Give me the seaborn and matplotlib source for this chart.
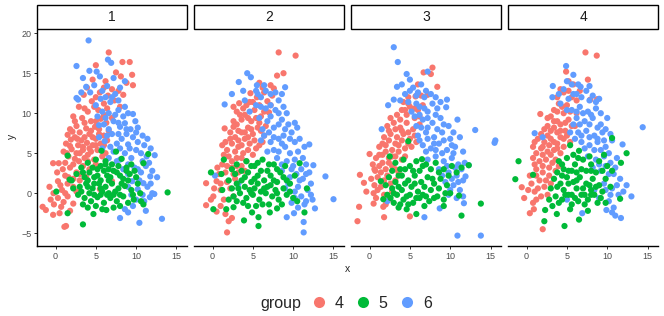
import matplotlib
matplotlib.use("Agg")
import pandas as pd
import matplotlib.pyplot as plt
import matplotlib.patches as mpatches
from matplotlib.lines import Line2D
import seaborn as sns

# ─── DATA ─────────────────────────────────────────────────────────────────────

FACETS = ["1", "2", "3", "4"]
GROUPS = ["4", "5", "6"]
GROUP_COLORS = {"4": "#F8766D", "5": "#00BA38", "6": "#619CFF"}
X_TICKS = [0, 5, 10, 15]
Y_TICKS = [-5, 0, 5, 10, 15, 20]

# panel 1 (*_CORE = extra points inside the dense blobs)
P1_G4 = [(6.6, 17.6), (8.3, 16.4), (9.2, 16.4), (5.0, 16.0), (7.5, 15.1), (9.5, 14.8), (8.1, 14.6),
         (4.6, 14.2), (6.2, 14.0), (9.6, 13.5), (3.9, 13.2), (7.0, 13.0), (8.4, 12.3), (5.5, 12.6),
         (6.5, 12.2), (3.5, 12.3), (4.5, 11.5), (6.0, 11.2), (7.3, 11.6), (2.9, 10.8), (5.3, 10.4),
         (4.0, 10.2), (8.0, 10.8), (2.2, 9.6), (3.3, 9.4), (4.4, 9.0), (5.6, 9.3), (2.6, 8.4), (3.8, 8.1),
         (4.9, 8.3), (6.3, 8.8), (1.8, 8.0), (1.5, 7.3), (2.4, 7.0), (3.2, 6.6), (4.2, 7.4), (5.0, 6.8),
         (6.0, 7.2), (1.3, 6.2), (2.8, 6.0), (3.9, 6.3), (4.6, 6.0), (5.6, 6.2), (1.0, 5.2), (2.0, 5.5),
         (3.0, 5.0), (3.6, 4.4), (4.4, 5.2), (5.2, 5.4), (2.4, 4.3), (1.6, 4.6), (4.8, 4.2), (6.2, 5.0),
         (0.4, 3.75), (-0.3, 3.75), (0.9, 3.0), (1.8, 3.2), (2.6, 2.6), (3.4, 3.4), (1.2, 2.2), (0.2, 2.6),
         (4.2, 3.0), (-0.75, 0.8), (0.3, 1.5), (1.5, 1.2), (2.2, 0.8), (-0.25, 0.0), (0.8, 0.4), (3.0, 1.6),
         (5.5, 0.5), (7.0, 1.5), (-1.6, -1.7), (-1.2, -2.1), (-0.3, -2.7), (1.3, -4.1), (1.1, -4.2),
         (0.5, -2.5), (0.7, -1.7), (1.5, -0.4), (-0.6, -0.8), (0.3, -0.6), (2.2, -1.3), (1.0, -1.1)]
P1_G4_CORE = [(1.6, 2.0), (2.2, 1.8), (3.0, 2.4), (3.8, 2.0), (1.2, 3.8), (2.2, 3.6), (2.9, 4.0),
              (4.0, 4.0), (5.0, 3.6), (1.4, 5.0), (2.6, 5.0), (3.4, 5.4), (4.0, 4.8), (5.8, 4.6),
              (1.8, 5.9), (3.4, 5.8), (4.2, 5.6), (5.0, 6.0), (6.0, 6.0), (1.9, 6.7), (2.7, 6.8),
              (3.6, 7.0), (4.6, 7.0), (5.4, 7.4), (6.4, 6.6), (2.1, 7.7), (3.0, 7.6), (4.4, 7.8),
              (5.4, 8.0), (6.6, 7.8), (2.4, 9.0), (3.6, 8.8), (5.0, 9.0), (6.0, 9.8), (7.0, 9.4),
              (3.6, 10.6), (4.8, 10.8), (6.4, 10.6), (5.0, 12.0), (7.8, 12.8), (6.0, 13.2), (8.8, 13.8),
              (0.6, 1.0), (1.2, 0.0), (2.6, 0.2), (-0.2, -1.4), (1.8, -2.2)]
P1_G6 = [(4.1, 19.1), (6.5, 16.7), (6.9, 16.3), (2.6, 15.9), (4.2, 15.3), (5.1, 15.2), (5.5, 14.6),
         (8.6, 14.0), (3.8, 13.3), (4.8, 13.5), (5.8, 12.8), (7.4, 12.4), (6.4, 13.4), (4.3, 12.6),
         (2.8, 11.7), (2.6, 11.9), (5.0, 11.0), (6.8, 11.4), (7.8, 10.4), (8.6, 10.8), (5.8, 10.2),
         (9.6, 9.9), (8.6, 8.75), (9.9, 9.0), (6.2, 9.4), (7.2, 9.0), (5.4, 8.5), (8.0, 8.3), (9.3, 8.0),
         (6.6, 8.0), (10.8, 7.2), (7.0, 7.4), (8.2, 6.8), (9.6, 7.0), (6.1, 6.5), (7.6, 6.2), (9.0, 6.1),
         (10.2, 6.4), (5.4, 7.0), (12.3, 4.75), (11.3, 4.6), (8.6, 5.0), (10.0, 5.4), (7.2, 5.2), (9.4, 4.4),
         (10.8, 4.0), (6.6, 4.4), (8.0, 4.2), (11.8, 5.6), (9.8, 3.2), (10.6, 2.6), (11.75, 2.1), (9.0, 2.4),
         (11.2, 3.4), (8.4, 3.0), (10.9, 1.25), (12.0, 0.0), (12.25, -0.1), (10.2, 0.5), (11.4, 0.8),
         (9.5, 1.5), (11.7, -0.5), (13.2, -3.2), (10.4, -3.7), (8.0, -3.1), (9.0, -2.4), (9.6, -1.6),
         (10.0, -0.8), (11.0, -1.0), (8.6, -2.0)]
P1_G6_CORE = [(5.6, 11.8), (6.2, 12.0), (7.0, 12.0), (7.8, 11.6), (8.0, 13.2), (5.2, 9.6), (6.6, 10.0),
              (7.4, 9.8), (8.4, 9.6), (9.0, 10.0), (6.0, 8.6), (7.8, 8.8), (8.8, 8.0), (10.2, 8.2),
              (6.4, 7.2), (7.8, 7.4), (8.8, 7.4), (10.0, 7.6), (11.4, 6.8), (5.8, 5.6), (6.8, 5.8),
              (8.0, 5.6), (9.2, 5.6), (10.6, 5.0), (11.0, 6.0), (7.6, 4.0), (9.0, 3.6), (10.2, 3.0),
              (11.6, 3.8), (12.0, 2.8), (10.4, 1.6), (11.8, 1.2), (9.0, 0.8), (10.8, -0.2), (11.2, -2.2),
              (9.4, -0.2), (12.6, 2.0), (3.4, 14.4), (3.2, 12.6), (7.2, 14.4)]
P1_G5 = [(1.5, 4.7), (13.9, 0.1), (11.5, 4.9), (10.9, 3.75), (3.4, -3.9), (4.7, -2.6), (1.5, -2.5),
         (10.9, -1.4), (7.5, 5.2), (5.7, 5.3), (6.3, -2.1), (0.1, 0.2), (1.75, 1.7), (9.7, -0.8), (10.5, 0.0),
         (4.0, 3.8), (5.0, 4.2), (6.2, 4.0), (7.0, 3.6), (8.2, 4.3), (9.4, 3.6), (3.2, 3.2), (4.6, 3.2),
         (5.6, 3.4), (6.6, 3.0), (2.6, 2.4), (3.6, 2.0), (4.2, 2.6), (5.2, 2.2), (6.0, 2.8), (6.8, 2.0),
         (7.6, 2.6), (8.4, 1.8), (9.2, 2.4), (10.0, 2.0), (2.0, 1.6), (3.0, 0.8), (3.8, 1.2), (4.6, 0.6),
         (5.4, 1.2), (6.2, 0.8), (7.0, 1.2), (7.8, 0.6), (8.6, 0.9), (9.4, 0.4), (4.2, 0.0), (5.8, 0.2),
         (6.6, 0.0), (3.6, -0.6), (4.4, -1.0), (5.2, -0.5), (6.0, -1.2), (6.8, -0.6), (7.6, -1.0),
         (8.4, -0.4), (5.0, -1.6), (7.2, -1.8), (9.0, -1.2), (2.8, -0.2)]
P1_G5_CORE = [(3.4, 2.6), (4.0, 1.6), (4.8, 2.0), (5.6, 1.6), (6.4, 2.2), (7.2, 2.8), (8.0, 2.2),
              (8.8, 2.8), (9.8, 2.8), (3.2, 0.2), (4.0, 0.8), (4.8, 1.2), (5.6, 0.6), (6.6, 1.6),
              (7.4, 0.2), (8.2, 1.2), (9.0, 1.6), (10.2, 1.2), (4.8, -0.2), (5.6, -0.2), (6.4, -0.2),
              (7.2, -0.2), (8.0, -0.2), (3.4, -1.4), (4.0, -1.8), (5.8, -2.0), (8.0, -1.6), (9.6, -0.2),
              (5.2, 3.0), (6.2, 3.6), (7.8, 3.4), (8.8, 3.2), (2.2, 0.6), (10.6, -1.0)]

# panel 2
P2_G4 = [(8.2, 17.6), (10.3, 17.2), (8.8, 15.0), (8.0, 14.7), (7.2, 13.5), (7.6, 13.1), (4.7, 12.5),
         (3.3, 11.25), (2.6, 8.3), (1.5, 8.1), (1.2, 6.0), (-0.8, 1.25), (0.1, -0.4), (-0.8, -1.5),
         (0.5, -2.3), (1.8, -4.9), (2.0, -3.5), (2.4, -3.1), (1.0, 0.4), (0.5, 1.5), (5.5, 12.0), (6.4, 12.6),
         (5.0, 11.4), (6.8, 11.5), (4.2, 11.0), (7.4, 12.2), (3.0, 10.2), (4.0, 9.8), (5.2, 10.4), (6.0, 9.6),
         (7.0, 10.1), (3.6, 9.2), (4.8, 9.0), (5.8, 8.8), (2.2, 7.6), (3.0, 8.6), (3.6, 7.6), (4.4, 8.2),
         (5.0, 7.4), (6.0, 7.8), (2.8, 7.0), (4.0, 6.8), (6.6, 8.4), (1.8, 5.4), (2.4, 6.2), (3.2, 5.8),
         (3.8, 5.0), (4.6, 6.2), (5.4, 5.6), (6.2, 6.4), (2.0, 4.6), (3.0, 4.4), (4.2, 4.0), (5.0, 4.8),
         (1.2, 3.6), (1.6, 2.6), (2.4, 3.2), (3.2, 2.6), (0.8, 2.4), (2.8, 1.8), (1.8, 1.4), (3.6, 3.4),
         (2.2, 0.6), (1.4, -0.8), (1.0, -1.6)]
P2_G4_CORE = [(2.6, 10.8), (3.8, 10.6), (4.6, 11.4), (5.8, 11.0), (7.2, 11.0), (6.2, 13.2), (5.8, 13.8),
              (3.4, 9.8), (4.4, 9.4), (5.4, 9.4), (6.4, 10.2), (2.6, 9.0), (3.2, 7.8), (4.0, 7.6),
              (4.8, 8.0), (5.6, 8.2), (6.4, 7.2), (2.2, 6.8), (3.2, 6.6), (3.6, 6.0), (4.4, 7.0),
              (5.2, 6.6), (5.8, 6.0), (1.6, 6.4), (2.8, 5.2), (3.6, 4.4), (4.4, 5.4), (1.4, 4.8),
              (2.4, 4.0), (1.8, 3.4), (3.0, 3.4), (4.0, 2.8), (0.6, 3.2), (1.0, 1.2), (2.6, 2.4),
              (0.2, 0.6), (2.6, -0.4), (1.6, -2.6), (-0.2, -0.8)]
P2_G6 = [(4.3, 15.0), (4.75, 14.5), (3.25, 13.9), (2.4, 12.4), (1.5, 11.1), (5.5, 13.5), (6.4, 13.5),
         (9.0, 13.25), (10.5, 8.2), (12.0, 6.1), (12.5, 3.5), (14.0, 2.1), (15.0, -0.75), (12.7, -1.9),
         (11.3, -3.6), (11.3, -4.9), (9.2, -3.0), (10.1, -2.5), (11.6, -1.0), (0.3, 2.2), (6.0, 12.0),
         (7.2, 12.4), (8.2, 11.6), (5.4, 11.0), (6.6, 10.6), (7.8, 10.4), (8.8, 10.8), (4.6, 10.2), (5.8, 9.4),
         (6.8, 9.0), (7.6, 8.2), (8.6, 9.2), (9.4, 8.6), (6.2, 8.0), (9.8, 7.6), (7.0, 7.6), (6.0, 6.6),
         (7.2, 6.4), (8.2, 6.8), (9.0, 5.8), (10.2, 6.4), (7.6, 5.4), (8.8, 7.2), (10.6, 5.2), (6.8, 5.2),
         (11.2, 4.4), (8.0, 4.4), (9.2, 4.0), (10.0, 3.4), (11.0, 3.0), (8.6, 2.8), (9.6, 2.0), (10.8, 1.6),
         (11.6, 2.4), (12.2, 1.2), (9.0, 0.6), (10.2, 0.2), (11.0, -0.4), (9.8, -1.2), (10.6, -1.8),
         (11.8, 0.4), (12.4, -0.8), (3.2, 1.2)]
P2_G6_CORE = [(6.6, 12.8), (7.8, 12.6), (5.6, 12.4), (8.6, 12.4), (6.0, 10.8), (7.2, 11.0), (8.2, 10.0),
              (9.2, 10.0), (7.2, 9.6), (8.2, 8.6), (9.0, 8.0), (10.2, 8.8), (6.4, 7.2), (7.6, 7.0),
              (8.6, 6.2), (9.6, 6.8), (10.8, 6.8), (11.4, 5.8), (8.2, 5.2), (9.6, 5.0), (10.2, 4.2),
              (11.6, 3.6), (8.6, 3.6), (9.8, 3.0), (10.4, 2.4), (11.2, 1.8), (12.0, 2.6), (9.4, 1.2),
              (10.6, 0.8), (11.4, -1.4), (10.2, -0.6), (12.2, -0.2), (5.4, 12.8), (3.8, 12.8), (4.0, 11.6)]
P2_G5 = [(-0.2, 2.6), (0.1, -2.0), (1.7, -2.0), (2.6, -1.75), (3.9, -3.4), (5.7, -4.1), (5.7, -3.0),
         (4.9, -2.4), (7.1, -2.4), (8.0, -1.9), (10.5, -1.0), (11.4, -2.4), (11.7, 0.6), (10.8, 3.75),
         (1.1, 2.4), (1.4, 4.2), (3.0, 3.6), (4.2, 4.0), (5.2, 3.4), (6.2, 4.2), (7.0, 3.6), (8.0, 3.0),
         (2.4, 3.0), (9.0, 3.4), (3.6, 2.8), (2.0, 1.6), (3.0, 1.2), (4.0, 2.0), (4.8, 1.4), (5.6, 2.2),
         (6.4, 1.6), (7.2, 2.2), (8.0, 1.4), (8.8, 2.0), (9.6, 1.2), (5.2, 0.6), (6.8, 0.8), (2.6, -0.4),
         (3.4, 0.0), (4.2, -0.6), (5.0, -0.2), (5.8, -0.8), (6.6, 0.0), (7.4, -0.4), (8.2, -0.8), (9.2, -0.2),
         (3.8, -1.2), (6.2, -1.4), (7.8, 0.4), (4.6, 0.4), (6.0, 0.2), (10.0, -0.6)]
P2_G5_CORE = [(2.8, 2.4), (3.6, 1.6), (4.4, 2.6), (5.2, 1.8), (6.0, 2.8), (6.8, 2.8), (7.6, 1.6),
              (8.4, 2.6), (9.2, 1.6), (10.2, 2.2), (2.4, 0.6), (3.2, 0.6), (4.0, 0.8), (4.8, 0.0),
              (5.6, 1.2), (6.4, 0.6), (7.2, 1.0), (8.0, 0.0), (8.8, 0.6), (9.6, 0.2), (3.0, -1.0),
              (4.4, -1.6), (5.4, -1.6), (7.0, -1.4), (8.6, -1.4), (5.6, 3.8), (7.6, 3.6), (4.8, 3.4),
              (2.0, -0.8), (1.2, 0.4)]

# panel 3
P3_G4 = [(7.8, 15.7), (6.7, 15.1), (7.6, 14.9), (8.4, 13.3), (7.2, 12.3), (5.7, 12.1), (4.4, 10.4),
         (0.0, 4.9), (-1.2, 2.3), (-0.7, 1.3), (0.5, 0.0), (-1.3, -1.7), (-1.5, -3.5), (0.5, -1.3),
         (1.8, -3.0), (1.7, -1.7), (5.0, -2.9), (0.7, 2.8), (4.2, 11.4), (5.0, 10.8), (6.0, 10.4), (3.4, 9.8),
         (5.6, 9.4), (6.6, 11.0), (4.8, 12.0), (2.2, 8.4), (3.0, 8.8), (3.8, 8.2), (4.6, 8.8), (5.4, 8.0),
         (2.6, 7.4), (3.4, 7.0), (4.2, 7.4), (5.0, 6.8), (6.2, 8.6), (1.8, 7.0), (1.2, 5.8), (2.0, 6.0),
         (2.8, 5.4), (3.6, 6.0), (4.4, 5.6), (1.6, 4.8), (2.4, 4.4), (3.2, 4.6), (4.0, 4.2), (5.2, 5.8),
         (0.8, 4.4), (0.4, 3.6), (1.2, 3.4), (2.0, 3.0), (2.8, 3.4), (3.6, 2.6), (1.0, 2.0), (1.8, 1.6),
         (2.6, 1.2), (0.2, 1.8), (3.2, 1.6), (1.0, 0.4), (1.8, -0.2), (2.4, -0.8), (0.8, -0.6), (2.0, -1.4)]
P3_G4_CORE = [(2.6, 9.4), (3.8, 9.2), (4.6, 9.8), (5.6, 10.6), (4.0, 10.4), (2.4, 7.8), (3.2, 8.0),
              (4.0, 7.8), (4.8, 7.6), (5.6, 7.2), (6.2, 9.6), (1.6, 6.2), (2.4, 6.6), (3.2, 6.2),
              (4.0, 6.6), (4.8, 6.2), (5.8, 6.4), (1.2, 4.8), (2.0, 5.2), (2.8, 4.6), (3.6, 5.2),
              (4.4, 4.6), (0.6, 3.0), (1.6, 3.8), (2.4, 3.8), (3.2, 3.0), (1.4, 2.6), (2.2, 2.2),
              (0.6, 1.0), (1.4, 0.8), (2.8, 0.2), (-0.4, 0.2), (4.8, 11.2), (6.4, 12.2), (6.0, 13.6)]
P3_G6 = [(3.0, 18.25), (3.5, 16.4), (4.6, 14.9), (5.0, 14.2), (3.4, 13.3), (3.0, 11.7), (2.3, 11.0),
         (1.5, 8.0), (9.6, 11.7), (9.5, 10.75), (10.9, 9.2), (13.1, 7.9), (15.5, 6.3), (15.6, 6.6), (12.3, 3.5),
         (11.9, 2.1), (11.7, -1.25), (10.9, -5.3), (13.8, -5.3), (8.7, -1.9), (6.8, -3.0), (2.2, -1.0),
         (7.2, 15.2), (5.4, 13.2), (6.4, 13.6), (4.4, 12.4), (5.8, 12.2), (7.0, 12.8), (8.2, 12.0), (3.8, 11.6),
         (5.2, 10.2), (6.2, 10.8), (7.2, 10.2), (8.4, 10.6), (6.6, 9.2), (7.8, 8.8), (8.8, 9.4), (9.8, 8.4),
         (5.8, 8.4), (6.0, 7.2), (7.0, 7.6), (8.0, 7.0), (9.0, 7.6), (10.0, 6.8), (6.6, 6.0), (7.6, 5.6),
         (8.6, 6.2), (9.6, 5.4), (10.6, 5.8), (11.2, 7.0), (7.2, 4.2), (8.2, 4.6), (9.2, 4.0), (10.2, 4.4),
         (11.0, 3.6), (8.6, 3.0), (9.8, 2.6), (10.8, 2.2), (11.4, 3.0), (9.4, 1.4), (10.4, 1.0), (11.2, 0.4),
         (10.8, -0.6), (9.8, -0.2), (11.6, 1.6)]
P3_G6_CORE = [(5.0, 12.8), (6.0, 12.6), (6.8, 12.0), (7.6, 12.4), (4.0, 13.6), (4.8, 11.4), (5.8, 11.2),
              (6.8, 10.6), (7.8, 11.2), (8.8, 11.4), (5.6, 9.6), (6.2, 9.8), (7.2, 9.4), (8.2, 9.8),
              (9.2, 8.6), (6.4, 8.2), (7.2, 8.2), (8.4, 8.0), (10.4, 7.6), (6.2, 6.6), (7.2, 6.8),
              (8.0, 6.2), (9.2, 6.6), (10.2, 6.0), (7.0, 5.2), (8.2, 5.4), (9.0, 5.0), (10.4, 5.0),
              (11.6, 5.2), (9.6, 3.4), (10.6, 3.2), (11.8, 3.8), (9.0, 2.2), (10.2, 1.8), (11.0, 1.4),
              (10.0, 0.4), (11.6, -0.4)]
P3_G5 = [(13.8, -1.3), (12.3, 3.5), (11.4, -2.8), (5.8, -2.6), (4.6, -2.0), (3.6, -1.8), (1.7, -0.75),
         (1.4, 1.5), (2.5, 4.6), (6.5, 4.25), (4.8, 6.5), (11.1, -0.3), (10.0, 0.0), (3.2, 3.8), (4.2, 4.2),
         (5.0, 3.4), (5.8, 4.0), (7.0, 3.6), (8.2, 3.8), (9.2, 3.0), (3.8, 3.0), (6.2, 2.8), (10.2, 3.4),
         (2.4, 2.0), (3.2, 1.4), (4.0, 2.2), (4.8, 1.6), (5.6, 2.2), (6.4, 1.4), (7.2, 2.0), (8.0, 1.2),
         (8.8, 1.8), (9.6, 1.0), (2.8, 0.6), (5.2, 0.8), (7.6, 0.4), (2.6, -0.6), (3.4, -0.2), (4.2, -0.8),
         (5.0, -0.2), (5.8, -0.6), (6.6, -0.2), (7.4, -1.0), (8.4, -0.4), (9.2, -0.8), (4.0, 0.4), (6.0, 0.2),
         (3.0, -1.2), (6.8, -1.6)]
P3_G5_CORE = [(2.8, 2.8), (3.6, 2.2), (4.4, 3.0), (5.4, 2.8), (6.6, 3.4), (7.6, 3.0), (8.6, 2.6),
              (9.8, 2.2), (2.0, 1.0), (3.6, 0.8), (4.4, 1.2), (5.6, 1.2), (6.8, 0.8), (7.8, 1.8),
              (8.6, 0.6), (9.4, 0.0), (3.0, 0.0), (4.6, -0.4), (5.4, -1.2), (6.2, -0.6), (7.0, -0.4),
              (8.0, -0.6), (4.8, -1.4), (3.8, -1.4), (2.2, -0.2), (10.8, 2.6), (11.4, 3.2), (9.2, -1.6)]

# panel 4
P4_G4 = [(7.3, 17.6), (8.7, 17.2), (7.6, 14.2), (4.9, 15.2), (5.2, 14.0), (7.9, 11.7), (1.7, 9.9),
         (0.8, 5.8), (-0.6, 0.75), (-0.3, -0.6), (0.4, -2.5), (0.9, -2.0), (2.0, -4.5), (1.2, -0.8),
         (8.75, 11.75), (4.6, 12.6), (5.6, 12.0), (4.0, 11.2), (5.0, 11.0), (6.2, 11.6), (3.4, 10.4),
         (4.6, 10.0), (6.6, 12.8), (2.6, 9.4), (3.4, 9.0), (4.2, 8.6), (5.2, 9.2), (6.0, 8.4), (2.2, 8.0),
         (3.0, 7.8), (3.8, 7.6), (4.8, 7.8), (1.4, 6.8), (2.2, 6.4), (3.0, 6.8), (3.8, 6.2), (4.6, 6.8),
         (5.4, 6.4), (1.8, 5.6), (2.6, 5.2), (3.4, 5.4), (4.2, 5.0), (0.8, 4.4), (1.6, 4.0), (2.4, 4.2),
         (3.2, 3.8), (4.0, 3.4), (1.2, 3.0), (2.0, 2.6), (2.8, 2.2), (3.6, 2.8), (1.6, 1.6), (0.6, 1.2),
         (1.4, 0.6), (2.2, 0.8), (1.8, -0.4), (2.6, -0.2), (3.0, 1.2)]
P4_G4_CORE = [(3.8, 12.0), (4.2, 13.0), (5.2, 12.8), (5.8, 13.6), (3.8, 10.2), (4.4, 10.8), (5.4, 10.2),
              (6.2, 10.0), (3.0, 9.6), (3.8, 9.0), (4.8, 8.8), (5.6, 8.4), (2.6, 8.4), (3.4, 8.2),
              (4.2, 7.8), (1.8, 7.4), (2.6, 7.2), (3.4, 6.4), (4.2, 7.0), (5.0, 7.2), (1.0, 6.4),
              (2.0, 5.8), (2.8, 6.0), (3.8, 5.6), (4.6, 5.8), (1.2, 5.0), (2.0, 4.8), (3.0, 4.8),
              (3.6, 4.2), (1.0, 3.6), (2.0, 3.4), (2.8, 3.2), (0.4, 2.2), (1.2, 2.2), (2.4, 1.6),
              (0.2, 0.4), (1.0, 0.2), (0.8, -1.2)]
P4_G6 = [(4.9, 15.9), (3.25, 13.4), (3.2, 12.0), (6.7, 13.3), (9.0, 11.8), (10.0, 9.4), (14.4, 8.25),
         (11.9, 6.1), (1.0, 7.5), (2.0, 7.0), (12.4, 1.0), (13.0, -0.4), (11.7, -3.1), (11.0, -2.8),
         (9.9, -2.1), (6.9, -2.5), (5.0, -0.8), (4.6, 13.0), (5.6, 13.6), (6.2, 12.4), (7.4, 12.8), (5.2, 11.8),
         (8.2, 12.2), (4.2, 11.2), (5.6, 10.4), (6.6, 10.8), (7.6, 10.2), (8.6, 10.6), (6.2, 9.4), (7.2, 9.0),
         (8.2, 9.4), (9.2, 8.6), (5.8, 8.6), (6.4, 7.6), (7.4, 7.8), (8.4, 7.2), (9.4, 7.6), (6.8, 6.4),
         (7.8, 6.0), (8.8, 6.4), (9.8, 5.8), (10.6, 6.6), (6.0, 6.8), (7.6, 4.6), (8.6, 4.2), (9.6, 4.6),
         (10.4, 3.8), (8.2, 3.2), (9.2, 2.8), (10.2, 2.4), (11.0, 3.2), (11.6, 1.8), (9.6, 1.2), (10.6, 0.6),
         (11.4, -0.2), (10.2, -1.0), (9.0, -0.6), (8.4, 0.4), (10.8, -1.8)]
P4_G6_CORE = [(5.0, 14.0), (5.8, 14.8), (6.4, 13.6), (7.8, 13.4), (4.0, 12.4), (5.8, 12.4), (6.8, 12.0),
              (7.8, 11.6), (8.6, 11.4), (5.0, 10.4), (6.2, 10.2), (7.0, 10.0), (8.0, 9.8), (9.2, 10.0),
              (6.6, 8.6), (7.8, 8.6), (8.8, 8.2), (9.8, 8.0), (5.4, 7.6), (6.8, 7.2), (7.8, 7.0),
              (8.8, 6.8), (9.6, 6.6), (10.4, 7.4), (7.2, 5.6), (8.4, 5.4), (9.2, 5.4), (10.2, 5.0),
              (11.2, 4.4), (9.0, 3.6), (9.8, 3.4), (10.8, 2.4), (11.2, 1.0), (9.8, 0.4), (10.4, -0.2),
              (12.0, 0.2), (10.6, -2.4)]
P4_G5 = [(-1.0, 4.0), (-1.4, 1.75), (10.6, 6.9), (12.4, 5.0), (11.7, 3.8), (11.6, -0.7), (7.6, -2.2),
         (6.5, -3.3), (4.7, -4.1), (2.2, -3.5), (2.3, -2.1), (3.75, -2.6), (5.4, -2.0), (0.8, 2.3), (5.4, 6.0),
         (6.5, 5.3), (4.0, 4.0), (5.0, 4.4), (6.0, 3.6), (7.0, 4.2), (8.0, 3.6), (9.0, 4.0), (10.0, 3.4),
         (4.6, 3.0), (5.6, 2.8), (7.4, 2.8), (8.6, 2.6), (3.4, 1.8), (4.2, 1.2), (5.0, 2.0), (5.8, 1.4),
         (6.6, 2.0), (7.4, 1.2), (8.2, 1.8), (9.0, 1.0), (9.8, 1.8), (3.0, 0.6), (6.2, 0.6), (4.6, 0.4),
         (3.6, -0.4), (4.4, -0.8), (5.2, -0.2), (6.0, -0.6), (6.8, -0.2), (7.6, -0.8), (8.4, -0.2), (9.2, -0.6),
         (5.6, -1.4), (7.2, -1.4), (8.0, 0.4), (2.8, -0.8)]
P4_G5_CORE = [(3.8, 2.6), (4.4, 2.2), (5.2, 2.8), (6.2, 2.6), (6.8, 3.0), (8.0, 2.8), (9.4, 2.8),
              (10.6, 2.8), (3.8, 0.8), (5.2, 1.2), (6.2, 1.6), (7.0, 0.6), (7.8, 1.0), (8.6, 0.8),
              (9.4, 0.2), (10.4, 0.8), (4.0, -1.2), (4.8, -0.2), (5.6, -0.2), (6.4, -1.0), (7.2, -0.2),
              (8.0, -0.2), (8.8, -1.2), (9.8, -1.2), (4.4, 3.6), (6.4, 4.4), (7.8, 4.6), (3.2, -1.6),
              (5.8, 4.8), (9.6, 4.8)]

# drawing order: red, blue, green
SERIES = [
    ("1", "4", P1_G4 + P1_G4_CORE), ("1", "6", P1_G6 + P1_G6_CORE), ("1", "5", P1_G5 + P1_G5_CORE),
    ("2", "4", P2_G4 + P2_G4_CORE), ("2", "6", P2_G6 + P2_G6_CORE), ("2", "5", P2_G5 + P2_G5_CORE),
    ("3", "4", P3_G4 + P3_G4_CORE), ("3", "6", P3_G6 + P3_G6_CORE), ("3", "5", P3_G5 + P3_G5_CORE),
    ("4", "4", P4_G4 + P4_G4_CORE), ("4", "6", P4_G6 + P4_G6_CORE), ("4", "5", P4_G5 + P4_G5_CORE),
]

rows = [(facet, grp, x, y) for facet, grp, pts in SERIES for x, y in pts]
df = pd.DataFrame(rows, columns=["facet", "group", "x", "y"])

# ─── PLOT ─────────────────────────────────────────────────────────────────────

sns.set_theme(style="ticks")
plt.rcParams["font.family"] = ["Liberation Sans", "DejaVu Sans"]

fig, axes = plt.subplots(1, 4, figsize=(6.64, 3.16), dpi=100, sharey=True)
fig.subplots_adjust(left=0.0557, right=0.991, top=0.905, bottom=0.2215, wspace=0.047)

for i, (ax, facet) in enumerate(zip(axes, FACETS)):
    sub = df[df["facet"] == facet]
    sns.scatterplot(data=sub, x="x", y="y", hue="group", hue_order=GROUPS, palette=GROUP_COLORS,
                    s=20, linewidth=0, alpha=1, legend=False, ax=ax)
    ax.set_xlim(-2.3, 16.3)
    ax.set_ylim(-6.6, 20.4)
    ax.set_xticks(X_TICKS)
    ax.set_yticks(Y_TICKS)
    ax.set_xlabel("")
    ax.set_ylabel("")
    ax.spines[["top", "right"]].set_visible(False)
    ax.spines["bottom"].set_linewidth(1.0)
    ax.spines["bottom"].set_color("black")
    ax.tick_params(axis="both", length=2.5, width=0.7, color="#333333",
                   labelsize=6.5, labelcolor="#4D4D4D", pad=1.5)
    if i == 0:
        ax.spines["left"].set_linewidth(1.0)
        ax.spines["left"].set_color("black")
    else:
        ax.spines["left"].set_visible(False)
        ax.tick_params(axis="y", left=False, labelleft=False)

    # facet strip
    strip = mpatches.Rectangle((0, 1.003), 1, 0.114, transform=ax.transAxes, clip_on=False,
                               facecolor="white", edgecolor="black", linewidth=1.0)
    ax.add_patch(strip)
    ax.text(0.5, 1.06, facet, transform=ax.transAxes, ha="center", va="center",
            fontsize=10, color="#1A1A1A")

fig.text(0.5235, 0.148, "x", ha="center", va="center", fontsize=7.5)
fig.text(0.0176, 0.567, "y", ha="center", va="center", rotation=90, fontsize=7.5)

# legend at bottom
fig.text(0.392, 0.041, "group", ha="left", va="center", fontsize=11.5)
handles = [Line2D([0], [0], marker="o", linestyle="", markersize=8, markeredgewidth=0,
                  color=GROUP_COLORS[g]) for g in GROUPS]
fig.legend(handles, GROUPS, loc="center left", bbox_to_anchor=(0.468, 0.041), ncol=3,
           frameon=False, fontsize=11.5, handlelength=1.0, handletextpad=0.5,
           columnspacing=0.7, borderpad=0, borderaxespad=0)

fig.savefig("out.png", dpi=100)
